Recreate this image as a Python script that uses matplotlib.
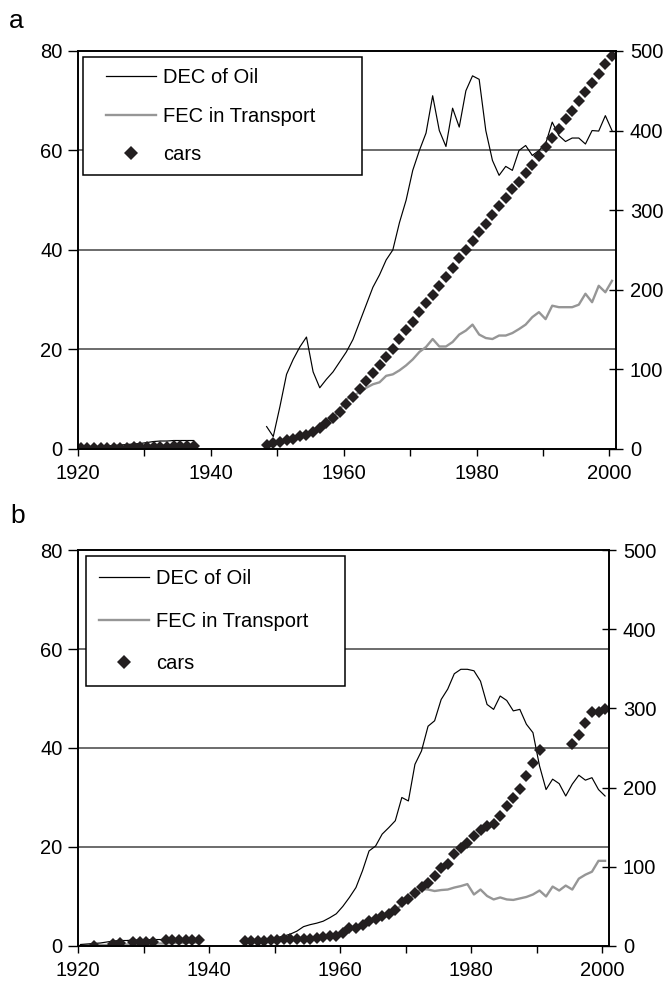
import numpy as np
import matplotlib
matplotlib.use("Agg")
import matplotlib.pyplot as plt
from matplotlib.lines import Line2D
from matplotlib.patches import Rectangle

plt.rcParams['font.family'] = ['Liberation Sans', 'DejaVu Sans']

# === DATA: panel a ===
years_a_pre = list(range(1920, 1938))
years_a_post = list(range(1948, 2001))
dec_a_pre = [0.3, 0.4, 0.5, 0.5, 0.6, 0.7, 0.8, 0.9, 1.0, 1.1, 1.3, 1.5, 1.6, 1.6, 1.7, 1.7, 1.7, 1.7]
fec_a_pre = [0.2, 0.2, 0.3, 0.3, 0.3, 0.4, 0.4, 0.5, 0.5, 0.6, 0.6, 0.7, 0.7, 0.7, 0.8, 0.8, 0.8, 0.8]
cars_a_pre = [1, 1, 1, 1, 1, 1, 1, 1, 2, 2, 2, 3, 3, 3, 4, 4, 4, 4]
dec_a_post = [4.5, 2.5, 8.5, 15, 18, 20.5, 22.5, 15.5, 12.3, 14, 15.5, 17.5,
              19.5, 22, 25.5, 29, 32.5, 35, 38, 40, 45.5, 50,
              56, 60, 63.5, 71, 64, 60.8, 68.5, 64.7, 72, 75,
              74.3, 64, 58, 55, 56.8, 56, 60, 61, 59, 60,
              61.3, 65.7, 63, 61.8, 62.5, 62.5, 61.3, 64, 63.9, 67,
              64]
fec_a_post = [1, 1.3, 1.6, 2, 2.4, 2.8, 3.2, 3.6, 4.3, 5.2, 6.3, 7.8,
              10, 10.7, 11.4, 12.3, 13, 13.4, 14.7, 15, 15.8, 16.8,
              18, 19.5, 20.5, 22.1, 20.6, 20.6, 21.5, 23, 23.8, 25,
              23, 22.3, 22.1, 22.8, 22.8, 23.3, 24.1, 25, 26.5, 27.5,
              26.1, 28.8, 28.5, 28.5, 28.5, 29, 31.2, 29.5, 32.8, 31.5,
              33.8]
cars_a_post = [5, 7, 9, 11, 13, 16, 18, 21, 26, 32, 39, 47,
               56, 65, 75, 85, 95, 105, 115, 126, 138, 149,
               160, 172, 183, 194, 205, 216, 227, 240, 250, 261,
               272, 283, 294, 305, 315, 326, 336, 347, 357, 368,
               379, 391, 402, 414, 425, 437, 448, 460, 471, 483,
               494]

# === DATA: panel b ===
years_b_pre = list(range(1920, 1939))
years_b_post = list(range(1945, 2001))
dec_b_pre = [0.3, 0.4, 0.5, 0.6, 0.8, 1.0, 1.1, 1.1, 1.2, 1.2, 1.2, 1.3, 1.3, 1.3, 1.4, 1.4, 1.4, 1.5, 1.5]
fec_b_pre = [0.1, 0.1, 0.2, 0.2, 0.2, 0.3, 0.3, 0.3, 0.4, 0.4, 0.4, 0.5, 0.5, 0.5, 0.6, 0.6, 0.6, 0.7, 0.7]
dec_b_post = [1.0, 1.0, 1.2, 1.3, 1.5, 1.7, 2.0, 2.4,
              3.0, 3.9, 4.3, 4.6, 5.0, 5.7, 6.5,
              8, 9.8, 11.8, 15.2, 19.2, 20.2, 22.6, 23.9, 25.3, 30,
              29.3, 36.7, 39.4, 44.4, 45.5, 49.8, 51.9, 55, 55.9, 55.9,
              55.6, 53.5, 48.8, 47.8, 50.5, 49.6, 47.5, 47.8, 44.8, 43.1,
              36.4, 31.6, 33.7, 32.8, 30.3, 32.7, 34.5, 33.5, 34, 31.6,
              30.3]
fec_b_post = [0.9, 0.9, 0.9, 0.9, 1.0, 1.2, 1.3, 1.4,
              1.4, 1.4, 1.4, 1.5, 1.6, 1.8, 2.0,
              2.6, 3.5, 3.8, 4.2, 4.8, 5.3, 5.8, 6.2, 7.2, 8.3,
              9.3, 10.5, 11.5, 11.4, 11.1, 11.3, 11.4, 11.8, 12.1, 12.5,
              10.4, 11.4, 10.1, 9.4, 9.8, 9.4, 9.3, 9.6, 9.9, 10.4,
              11.2, 10.0, 12.0, 11.2, 12.2, 11.4, 13.6, 14.4, 15.0, 17.2,
              17.2]
car_years_b = [1922, 1925, 1926, 1928, 1929, 1930, 1931, 1933, 1934, 1935, 1936, 1937, 1938] \
    + list(range(1945, 1991)) + list(range(1995, 2001))
cars_b = [0, 3, 4, 5, 5, 5, 5, 7, 8, 8, 7, 8, 8,
          6, 6, 6, 6, 7, 8, 9, 9, 9, 9, 9, 10, 11, 12, 13,
          16, 23, 23, 27, 32, 34, 38, 40, 46, 55,
          59, 67, 74, 80, 88, 99, 103, 116, 124, 130,
          139, 147, 152, 154, 164, 177, 187, 198, 215, 231,
          248,
          255, 266, 281, 295, 295, 299]

labels = ["DEC of Oil", "FEC in Transport", "cars"]

# === STYLE ===
FS = 14.5
x_off = 0.4          # points sit a little right of the year tick
dec_color = "black"
fec_color = "#969696"
car_color = "#231f20"
grid_color = "#444444"


def with_gap(y_pre, v_pre, y_post, v_post):
    x = np.concatenate([np.array(y_pre, float), [np.nan], np.array(y_post, float)])
    v = np.concatenate([np.array(v_pre, float), [np.nan], np.array(v_post, float)])
    return x + x_off, v


def draw_panel(rect, dec_xy, fec_xy, car_x, car_v, box, leg_anchor, leg_spacing):
    ax = fig.add_axes(rect)
    ax.plot(*fec_xy, color=fec_color, lw=1.7)
    ax.plot(*dec_xy, color=dec_color, lw=0.85)
    ax.set_xlim(1920, 2001)
    ax.set_ylim(0, 80)
    ax.set_yticks([0, 20, 40, 60, 80])
    ax.set_xticks([1920, 1940, 1960, 1980, 2000])
    ax.set_xticks([1930, 1950, 1970, 1990], minor=True)
    for y in [20, 40, 60]:
        ax.axhline(y, color=grid_color, lw=1.1, zorder=0.5)
    ax.tick_params(axis='y', direction='out', length=7, width=1, labelsize=FS, pad=4)
    ax.tick_params(axis='x', which='both', direction='out', length=5, width=1, labelsize=FS, pad=6)
    for s in ax.spines.values():
        s.set_linewidth(1.2)

    ax2 = ax.twinx()
    ax2.plot(np.array(car_x, float) + x_off, car_v, linestyle='none', marker='D',
             markersize=6.6, color=car_color, markeredgewidth=0)
    ax2.set_ylim(0, 500)
    ax2.set_yticks([0, 100, 200, 300, 400, 500])
    ax2.tick_params(axis='y', direction='inout', length=10, width=1, labelsize=FS, pad=5)
    for s in ax2.spines.values():
        s.set_linewidth(1.2)

    x0, y0, x1, y1 = box
    ax2.add_patch(Rectangle((x0, y0), x1 - x0, y1 - y0, transform=ax2.transAxes,
                            facecolor='white', edgecolor='black', lw=1.1, zorder=4))
    handles = [Line2D([], [], color=dec_color, lw=0.9),
               Line2D([], [], color=fec_color, lw=1.7),
               Line2D([], [], linestyle='none', marker='D', markersize=7.5,
                      color=car_color, markeredgewidth=0)]
    leg = ax2.legend(handles, labels, loc='upper left', bbox_to_anchor=leg_anchor,
                     frameon=False, fontsize=FS, borderpad=0, borderaxespad=0,
                     handlelength=2.5, handletextpad=0.35, labelspacing=leg_spacing)
    leg.set_zorder(5)
    return ax, ax2


fig = plt.figure(figsize=(6.66, 9.82), dpi=100)

dec_a = with_gap(years_a_pre, dec_a_pre, years_a_post, dec_a_post)
fec_a = with_gap(years_a_pre, fec_a_pre, years_a_post, fec_a_post)
draw_panel([0.1171, 0.5428, 0.8078, 0.4053], dec_a, fec_a,
           years_a_pre + years_a_post, cars_a_pre + cars_a_post,
           (0.0093, 0.6884, 0.528, 0.985), (0.052, 0.956), 0.95)

dec_b = with_gap(years_b_pre, dec_b_pre, years_b_post, dec_b_post)
fec_b = with_gap(years_b_pre, fec_b_pre, years_b_post, fec_b_post)
draw_panel([0.1171, 0.0367, 0.7973, 0.4032], dec_b, fec_b,
           car_years_b, cars_b,
           (0.0143, 0.6566, 0.503, 0.985), (0.0395, 0.951), 1.15)

fig.text(0.0135, 0.9715, "a", fontsize=19, va='baseline')
fig.text(0.015, 0.4674, "b", fontsize=19, va='baseline')

fig.savefig("out.png", dpi=100)
